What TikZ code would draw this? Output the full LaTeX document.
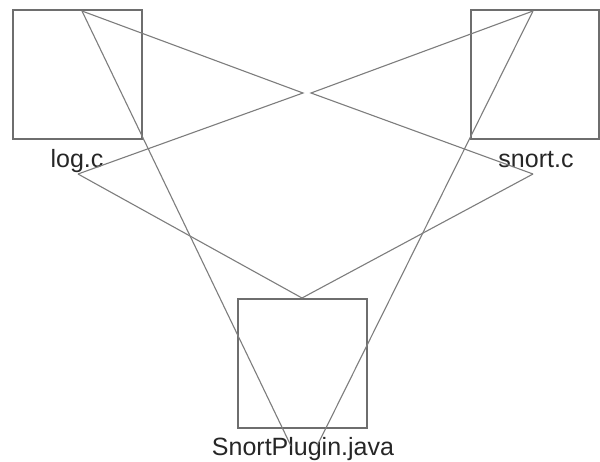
\documentclass[tikz,border=0pt]{standalone}
\usepackage{fontspec}
\setmainfont{Liberation Sans}
\definecolor{boxgray}{RGB}{110,110,110}
\definecolor{linegray}{RGB}{125,125,125}
\begin{document}
\begin{tikzpicture}[x=1pt,y=-1pt,
  box/.style={draw=boxgray, line width=1.6pt, minimum width=129pt, minimum height=129pt, inner sep=0pt, outer sep=0pt, anchor=north west},
  lbl/.style={font=\fontsize{25}{25}\selectfont, anchor=base, inner sep=0pt, text=black!85},
  conn/.style={draw=linegray, line width=1.1pt}]
\useasboundingbox[fill=white] (0,0) rectangle (600,461);
\node[box] (logbox) at (13,10) {};
\node[box, minimum width=128pt] (snortbox) at (471,10) {};
\node[box] (plugbox) at (238,299) {};
\node[lbl] (loglbl) at (77,167) {log.c};
\node[lbl] (snortlbl) at (536,167) {snort.c};
\node[lbl] (pluglbl) at (303,455) {SnortPlugin.java};
\coordinate (lt) at (82,11);
\coordinate (st) at (533,11);
\coordinate (ll) at (78,174);
\coordinate (sl) at (533,174);
\coordinate (pt) at (302,298);
\coordinate (cl) at (303,93);
\coordinate (cr) at (311,93);
\coordinate (pbl) at (291,446);
\coordinate (pbr) at (317,446);
\draw[conn] (lt) -- (cl) -- (ll);
\draw[conn] (st) -- (cr) -- (sl);
\draw[conn] (ll) -- (pt) -- (sl);
\draw[conn] (lt) -- (pbl);
\draw[conn] (st) -- (pbr);
\end{tikzpicture}
\end{document}
